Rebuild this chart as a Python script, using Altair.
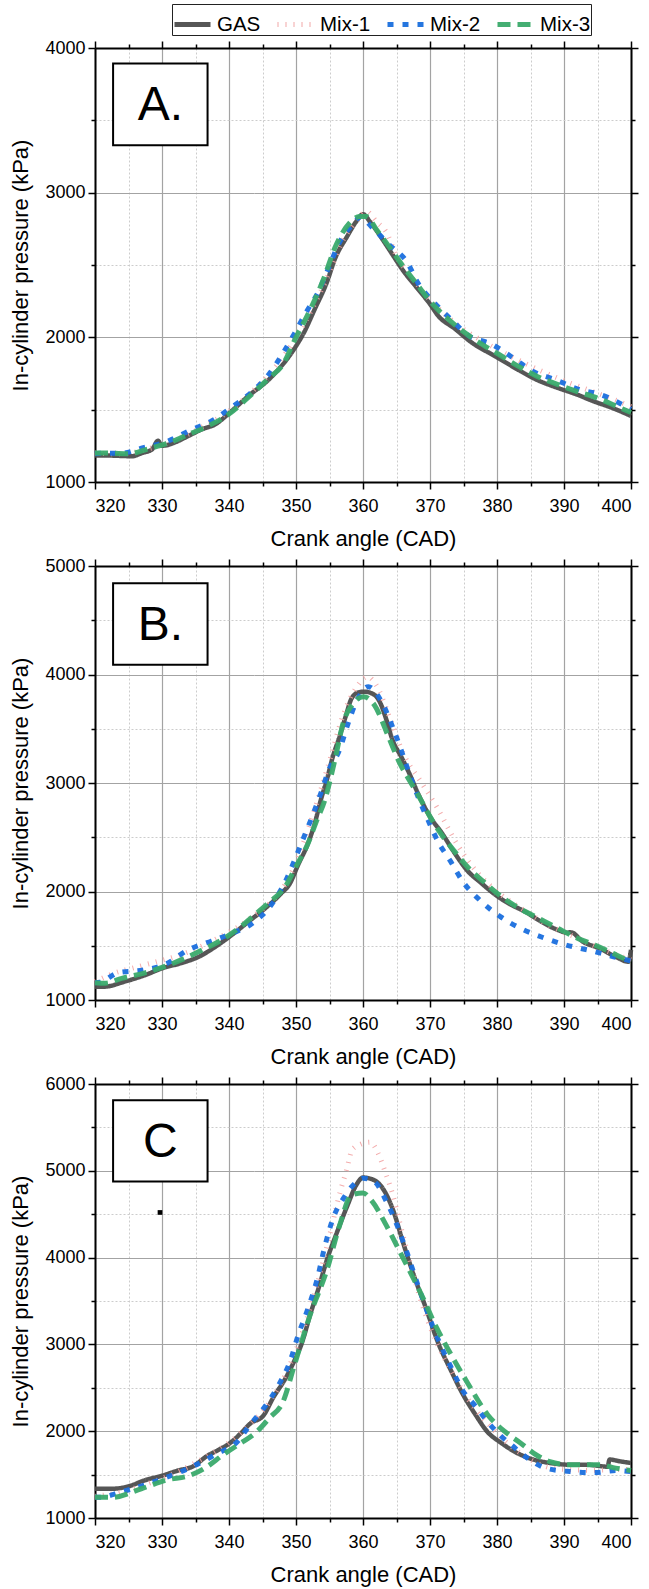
import altair as alt
import pandas as pd

FONT = "Liberation Sans"
SERIES = ["GAS", "Mix-1", "Mix-2", "Mix-3"]
COLORS = ["#4d4d4d", "#f2a3a3", "#1a6fde", "#3aaa6b"]
DASHES = [[1, 0], [1, 7], [6, 9], [13, 7]]
WIDTHS = [4.5, 5, 5, 5]

X_TICKS = list(range(320, 401, 5))
Y_TOPS = [4000, 5000, 6000]
PANEL_LABELS = ["A.", "B.", "C"]
BOX_X = [322.7, 336.8]
BOX_Y = [[3892, 3327], [4841, 4089], [5814, 4877]]
DOT_C = [329.7, 4520]

# ---------------- Panel A ----------------
gas_a_x = [320, 322, 324, 325.5, 327, 328.5, 329.4, 330, 332, 334, 336, 338, 340, 342.9, 346, 349.7, 351.2, 352.8,
           354.6, 355.8, 357.7, 358.9, 360, 361.1, 363.2, 364.5, 366, 368.2, 370, 371.2, 373.7, 376.2, 379.9, 383,
           386, 389.1, 392.2, 394, 397.1, 400]
gas_a_y = [1184, 1183, 1180, 1178, 1200, 1225, 1285, 1250, 1275, 1320, 1365, 1400, 1475, 1595, 1711, 1918, 2034, 2195,
           2380, 2541, 2703, 2795, 2851, 2795, 2657, 2565, 2461, 2334, 2230, 2150, 2060, 1965, 1865, 1780,
           1705, 1650, 1600, 1565, 1514, 1457]
mix1_a_x = [320, 324, 328, 332, 336, 340, 344, 348, 352, 355, 357, 359, 360.5, 362, 363.5, 365, 367, 370, 374, 378,
            382, 386, 390, 394, 398, 400]
mix1_a_y = [1200, 1195, 1230, 1290, 1380, 1490, 1650, 1860, 2160, 2450, 2670, 2800, 2870, 2800, 2725, 2560, 2430,
            2260, 2090, 1970, 1870, 1780, 1700, 1630, 1560, 1520]
mix2_a_x = [320, 320.7, 323.8, 327.2, 330.6, 334, 337.4, 340.2, 343.3, 345.9, 347.8, 349.8, 351.5, 353.4, 354.9,
            356.5, 358.3, 359.6, 361.4, 363.8, 366.6, 368.3, 370.6, 373.1, 375.8, 379.2, 382.3, 385.4, 388.5,
            392.2, 395.6, 398.6, 400]
mix2_a_y = [1195, 1198, 1198, 1237, 1277, 1353, 1422, 1510, 1618, 1741, 1872, 2029, 2172, 2322, 2484, 2657, 2772,
            2830, 2758, 2645, 2518, 2368, 2241, 2126, 2011, 1953, 1861, 1764, 1711, 1641, 1602, 1538, 1503]
mix3_a_x = [320, 322, 325, 328, 331, 334, 337, 340, 343, 346, 348, 350, 352, 354, 356, 358, 359.5, 360.5, 362, 364,
            366, 368, 370, 372, 374, 376, 378, 380, 383, 386, 389, 392, 395, 398, 400]
mix3_a_y = [1200, 1200, 1195, 1230, 1270, 1330, 1390, 1470, 1590, 1720, 1810, 2000, 2180, 2390, 2640, 2790, 2835,
            2835, 2745, 2620, 2490, 2370, 2250, 2155, 2075, 2005, 1945, 1890, 1805, 1730, 1675, 1625, 1580,
            1520, 1480]

# ---------------- Panel B ----------------
gas_b_x = [320, 321.4, 324.4, 327.5, 330, 333.1, 335.5, 338, 340.4, 342.9, 345.4, 347.8, 349.1, 350.3, 351.8, 352.8,
           353.7, 354.6, 355.5, 356.5, 357.4, 358.3, 359.3, 360.2, 361.7, 362.6, 363.5, 364.4, 365.7, 366.9, 368.2,
           370, 371.8, 373.7, 375.5, 377.7, 379.8, 381.7, 384.2, 386.6, 389.1, 390.5, 391, 392.8, 395.3, 397.7,
           399.6, 400]
gas_b_y = [1123, 1123, 1169, 1230, 1292, 1344, 1399, 1492, 1599, 1722, 1845, 1983, 2075, 2244, 2444, 2628, 2843,
           3028, 3243, 3427, 3611, 3780, 3835, 3842, 3813, 3735, 3581, 3397, 3243, 3090, 2905, 2690, 2536, 2352,
           2198, 2075, 1968, 1891, 1814, 1722, 1645, 1620, 1625, 1538, 1476, 1399, 1353, 1461]
mix1_b_x = [320, 323, 326, 329, 332, 335, 338, 341, 344, 347, 349, 351, 353, 355, 357, 359, 360.7, 362, 364, 366,
            368.8, 371, 374, 377, 380, 384, 388, 392, 396, 400]
mix1_b_y = [1170, 1250, 1300, 1350, 1400, 1470, 1560, 1660, 1790, 1950, 2130, 2430, 2800, 3200, 3620, 3880, 3980,
            3900, 3600, 3273, 2997, 2780, 2440, 2180, 2000, 1830, 1680, 1570, 1460, 1370]
mix2_b_x = [320, 320.7, 323.5, 327.2, 330.6, 333.7, 337.4, 340.4, 343.5, 346.3, 348.4, 349.8, 351.2, 352.5, 353.7,
            354.9, 356.5, 357.7, 358.9, 360.8, 362.9, 364.5, 365.7, 366.9, 368.2, 369.7, 371.2, 373.1, 374.9,
            377.4, 380.5, 383.5, 386.9, 390.3, 394, 397.4, 400]
mix2_b_y = [1160, 1163, 1252, 1276, 1332, 1455, 1544, 1614, 1707, 1876, 2091, 2290, 2505, 2705, 2905, 3120, 3304,
            3535, 3734, 3888, 3734, 3504, 3304, 3089, 2874, 2659, 2459, 2275, 2091, 1922, 1768, 1661, 1575, 1507,
            1455, 1399, 1360]
mix3_b_x = [320, 321.5, 324, 327.2, 330, 333.4, 336, 338.9, 341, 343.8, 346, 348.4, 350, 351.8, 353, 354.3, 355.8,
            357.1, 358.5, 360.1, 361.7, 363.8, 365.5, 366.9, 368.5, 370, 372, 373.7, 376, 378, 380.5, 382.9, 386,
            389.1, 392, 394.6, 397, 399.6, 400]
mix3_b_y = [1160, 1155, 1200, 1246, 1300, 1384, 1460, 1553, 1640, 1783, 1900, 2045, 2230, 2444, 2640, 2843, 3212,
            3565, 3730, 3796, 3719, 3427, 3180, 3028, 2860, 2690, 2500, 2367, 2200, 2091, 1960, 1860, 1760, 1660,
            1570, 1507, 1440, 1362, 1350]

# ---------------- Panel C ----------------
gas_c_x = [320, 322.6, 325, 327.5, 330, 332.4, 334.6, 336.7, 338.6, 340.1, 341.7, 343.2, 345.1, 346.6, 348.4, 349.7,
           350.9, 352.1, 353.4, 354.6, 356.1, 357.7, 358.9, 360, 361.4, 362.9, 364.5, 366, 367.5, 369.4, 371.2,
           373.1, 374.9, 376.8, 378.6, 380.5, 382.9, 385.4, 387.9, 390.9, 393.4, 395.9, 396.5, 396.8, 398.3, 400]
gas_c_y = [1337, 1337, 1365, 1436, 1487, 1547, 1594, 1713, 1792, 1860, 1971, 2090, 2177, 2387, 2605, 2803, 3021,
           3338, 3655, 3971, 4288, 4605, 4823, 4922, 4902, 4803, 4545, 4168, 3813, 3417, 3021, 2704, 2426, 2189,
           1990, 1872, 1753, 1674, 1634, 1614, 1614, 1594, 1590, 1674, 1654, 1634]
mix1_c_x = [320, 324, 328, 332, 336, 340, 343, 346, 349, 351, 353, 355, 356.6, 357.5, 358.4, 359.5, 361.1, 362.2,
            363.4, 364.4, 365.5, 367, 369, 371, 373, 375, 377, 379, 381, 384, 387, 390, 394, 398, 400]
mix1_c_y = [1250, 1300, 1400, 1520, 1680, 1870, 2070, 2330, 2750, 3150, 3650, 4250, 4760, 4995, 5244, 5300, 5330,
            5210, 4967, 4737, 4400, 3950, 3420, 3020, 2720, 2450, 2230, 2060, 1900, 1720, 1600, 1560, 1550, 1560,
            1560]
mix2_c_x = [320, 320.7, 323.8, 327.2, 330.9, 334.6, 338, 341.4, 342.9, 345.4, 347.5, 349.1, 350.3, 351.8, 353.1,
            354.3, 355.5, 357.1, 358.9, 360, 361.7, 363.5, 365.1, 366.6, 367.8, 369.4, 371.2, 373.1, 374.9, 376.8,
            378.6, 380.5, 382.3, 384.5, 387.3, 390.9, 394.6, 397.7, 400]
mix2_c_y = [1238, 1238, 1297, 1376, 1475, 1594, 1733, 1891, 2050, 2288, 2545, 2803, 3100, 3417, 3734, 4130, 4447,
            4685, 4863, 4914, 4875, 4645, 4368, 4051, 3773, 3417, 3060, 2743, 2466, 2288, 2109, 1951, 1832, 1693,
            1574, 1535, 1523, 1547, 1535]
mix3_c_x = [320, 322.6, 326.9, 330.6, 334.3, 336.5, 339.2, 341.5, 344.1, 346, 348.1, 349.7, 352.1, 354.6, 356.5,
            358.3, 360, 361.4, 363.5, 366, 368.8, 371, 372.8, 375.5, 378.6, 381.1, 383.5, 386, 387.9, 390.9, 395.3,
            397.7, 400]
mix3_c_y = [1238, 1238, 1337, 1436, 1495, 1580, 1733, 1850, 1990, 2150, 2347, 2744, 3338, 3853, 4368, 4724, 4744,
            4645, 4368, 3991, 3560, 3190, 2930, 2570, 2190, 2000, 1865, 1720, 1650, 1614, 1614, 1575, 1547]

PANELS = [
    [(gas_a_x, gas_a_y), (mix1_a_x, mix1_a_y), (mix2_a_x, mix2_a_y), (mix3_a_x, mix3_a_y)],
    [(gas_b_x, gas_b_y), (mix1_b_x, mix1_b_y), (mix2_b_x, mix2_b_y), (mix3_b_x, mix3_b_y)],
    [(gas_c_x, gas_c_y), (mix1_c_x, mix1_c_y), (mix2_c_x, mix2_c_y), (mix3_c_x, mix3_c_y)],
]

W, H = 536, 434


def cond(test, a, b):
    return {"condition": {"test": test, "value": a}, "value": b}


XMAJ = "datum.value % 10 === 0"
YMAJ = "datum.value % 1000 === 0"

legend = alt.Legend(
    orient="none", legendX=77, legendY=-44, direction="horizontal", title=None,
    symbolType="stroke", symbolSize=1296, symbolStrokeWidth=5, labelFontSize=20.5,
    labelFont=FONT, labelColor="black", strokeColor="#222", padding=0, columnPadding=6,
    labelOffset=4, labelLimit=0,
)


def make_panel(i):
    ytop = Y_TOPS[i]
    y_ticks = list(range(1000, ytop + 1, 500))
    xscale = alt.Scale(domain=[320, 400], nice=False, zero=False)
    yscale = alt.Scale(domain=[1000, ytop], nice=False, zero=False)

    x_bottom = alt.Axis(
        orient="bottom", values=X_TICKS, title="Crank angle (CAD)", format="d",
        labelExpr=f"{XMAJ} ? datum.label : ''", labelOverlap=False,
        grid=True, gridColor=cond(XMAJ, "#a3a3a3", "#cccccc"),
        gridDash=cond(XMAJ, [1, 0], [2, 2]), gridWidth=cond(XMAJ, 1.2, 1),
        tickSize=cond(XMAJ, 7, 4), tickColor="black", tickWidth=1.5,
        domainColor="black", domainWidth=2, labelPadding=8, titlePadding=13,
    )
    y_left = alt.Axis(
        orient="left", values=y_ticks, title="In-cylinder pressure (kPa)", format="d",
        labelExpr=f"{YMAJ} ? datum.label : ''", labelOverlap=False,
        grid=True, gridColor=cond(YMAJ, "#a3a3a3", "#cccccc"),
        gridDash=cond(YMAJ, [1, 0], [2, 2]), gridWidth=cond(YMAJ, 1.2, 1),
        tickSize=cond(YMAJ, 7, 4), tickColor="black", tickWidth=1.5,
        domainColor="black", domainWidth=2, labelPadding=3, titlePadding=12,
    )
    x_top = alt.Axis(orient="top", values=X_TICKS, labels=False, title=None, grid=False,
                     tickSize=cond(XMAJ, 7, 4), tickColor="black", tickWidth=1.5,
                     domainColor="black", domainWidth=2)
    y_right = alt.Axis(orient="right", values=y_ticks, labels=False, title=None, grid=False,
                       tickSize=cond(YMAJ, 7, 4), tickColor="black", tickWidth=1.5,
                       domainColor="black", domainWidth=2)

    layers = []
    for k, (xs, ys) in enumerate(PANELS[i]):
        df = pd.DataFrame({"cad": xs, "p": ys, "series": SERIES[k]})
        enc = dict(
            color=alt.Color("series:N", scale=alt.Scale(domain=SERIES, range=COLORS), legend=legend),
            strokeDash=alt.StrokeDash("series:N", scale=alt.Scale(domain=SERIES, range=DASHES), legend=legend),
        )
        if k == 0:
            enc["x"] = alt.X("cad:Q", scale=xscale, axis=x_bottom)
            enc["y"] = alt.Y("p:Q", scale=yscale, axis=y_left)
        else:
            enc["x"] = alt.X("cad:Q", scale=xscale, axis=None)
            enc["y"] = alt.Y("p:Q", scale=yscale, axis=None)
        layers.append(
            alt.Chart(df).mark_line(strokeWidth=WIDTHS[k], strokeCap="butt", strokeJoin="round",
                                    interpolate="monotone",
                                    opacity=0.95 if k != 1 else 0.9).encode(**enc)
        )

    box_df = pd.DataFrame({"x": [BOX_X[0]], "x2": [BOX_X[1]], "y": [BOX_Y[i][0]], "y2": [BOX_Y[i][1]],
                           "xm": [(BOX_X[0] + BOX_X[1]) / 2], "ym": [(BOX_Y[i][0] + BOX_Y[i][1]) / 2],
                           "label": [PANEL_LABELS[i]]})
    box = alt.Chart(box_df).mark_rect(fill="white", stroke="black", strokeWidth=2).encode(
        x=alt.X("x:Q", scale=xscale, axis=x_top), x2="x2:Q",
        y=alt.Y("y:Q", scale=yscale, axis=y_right), y2="y2:Q",
    )
    txt = alt.Chart(box_df).mark_text(font=FONT, fontSize=48, color="black", baseline="middle",
                                      align="center", dy=2).encode(
        x=alt.X("xm:Q", scale=xscale, axis=None), y=alt.Y("ym:Q", scale=yscale, axis=None), text="label:N")
    extra = [box, txt]
    if i == 2:
        dot_df = pd.DataFrame({"x": [DOT_C[0]], "y": [DOT_C[1]]})
        extra.append(alt.Chart(dot_df).mark_square(size=22, color="black", opacity=1).encode(
            x=alt.X("x:Q", scale=xscale, axis=None), y=alt.Y("y:Q", scale=yscale, axis=None)))

    return alt.layer(*extra, *layers).resolve_axis(x="independent", y="independent").properties(
        width=W, height=H)


chart = alt.vconcat(*[make_panel(i) for i in range(3)], spacing=8).properties(
    padding={"left": 9, "top": 3, "right": 4, "bottom": 4}, background="white"
).configure_view(stroke=None).configure_axis(
    labelFont=FONT, titleFont=FONT, labelFontSize=18, titleFontSize=22,
    labelColor="black", titleColor="black", titleFontWeight="normal",
)

chart.save("out.html", embed_options={"renderer": "svg", "actions": False})
